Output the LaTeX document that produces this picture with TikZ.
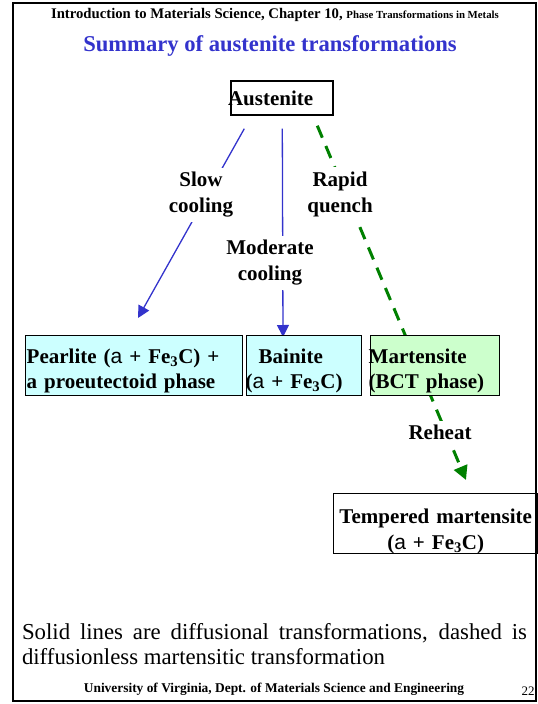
\documentclass[tikz,border=0pt]{standalone}
\usepackage{fontspec}
\setmainfont{Liberation Serif}
\newfontfamily\alfont{Liberation Sans}
\usetikzlibrary{arrows.meta,backgrounds}

\definecolor{pearlcyan}{HTML}{CCFFFF}
\definecolor{martgreen}{HTML}{CCFFCC}
\definecolor{titleblue}{HTML}{3333CC}
\definecolor{quenchgreen}{HTML}{008000}

\newcommand{\alphaph}{{\alfont\mdseries a}}
\newcommand{\fec}{Fe\textsubscript{3}C}

\tikzset{
  phase/.style={draw, line width=1.4pt, inner ysep=0pt, minimum height=60pt, align=left,
    font=\bfseries\fontsize{21}{25.5}\selectfont},
  phasetext/.style={phase, draw=none, minimum height=0pt, inner xsep=0pt, anchor=north west},
  route/.style={fill=white, inner sep=4pt, align=center, font=\bfseries\fontsize{21}{26}\selectfont},
  diffusional/.style={draw=titleblue, line width=1.3pt, -{Triangle[length=12pt,width=12pt]}},
  quench/.style={draw=quenchgreen, line width=3pt, dash pattern=on 13pt off 9pt,
    -{Triangle[length=14pt,width=14pt]}}
}

\begin{document}
\begin{tikzpicture}[x=1pt,y=-1pt]
    \useasboundingbox (0,0) rectangle (538,704);
    \draw[line width=2pt] (13,3) rectangle (536,701);

    % Heading
    \node[font=\bfseries\fontsize{14.7}{17}\selectfont] (head) at (275,15)
        {Introduction to Materials Science, Chapter 10, {\fontsize{10.8}{13}\selectfont Phase Transformations in Metals}};
    \node[font=\bfseries\fontsize{22.6}{26}\selectfont, text=titleblue] (title) at (270,46)
        {Summary of austenite transformations};

    % Phases
    \node[phase, minimum height=34pt, text width=108pt, inner xsep=-3pt] (aus) at (282,98) {Austenite};

    \node[phase, fill=pearlcyan, minimum width=217pt, anchor=north west] (pearl) at (25,335) {};
    \node[phase, fill=pearlcyan, minimum width=115pt, anchor=north west] (bain) at (246,335) {};
    \node[phase, fill=martgreen, minimum width=129pt, anchor=north west] (mart) at (370,335) {};
    \node[phase, minimum width=204pt, anchor=north west] (temp) at (333,493) {};

    \node[phasetext, text width=216pt] (pearltext) at (26,348)
        {Pearlite (\alphaph{} + \fec) +\\a proeutectoid phase};
    \node[phasetext, text width=117pt] (baintext) at (245,348)
        {\hspace*{13pt}Bainite\\(\alphaph{} + \fec)};
    \node[phasetext, text width=133pt] (marttext) at (368,348)
        {Martensite\\(BCT phase)};
    \node[phasetext, text width=204pt, align=center, anchor=north] (temptext) at (temp.north)
        {\rule{0pt}{30pt}Tempered martensite\\(\alphaph{} + \fec)};

    % Edges
    \begin{scope}[on background layer]
        \draw[diffusional] ([shift={(14,13)}]aus.south west) -- ([shift={(113,-17)}]pearl.north west);
        \draw[diffusional] ([shift={(52,13)}]aus.south west) -- ([shift={(37,2)}]bain.north west);
        \draw[quench] ([shift={(87,10)}]aus.south west) -- ([shift={(133,-13)}]temp.north west);
    \end{scope}

    % Edge labels
    \node[route] (slow) at (201,195) {Slow\\cooling};
    \node[route] (moder) at (270,263) {Moderate\\cooling};
    \node[route] (rapid) at (340,194) {Rapid\\quench};
    \node[route] (reheat) at (440,432) {Reheat};

    % Note and footer
    \node[text width=505pt, align=justify, inner sep=0pt, font=\fontsize{22.8}{25.5}\selectfont] (note) at (274.5,644)
        {Solid lines are diffusional transformations, dashed is diffusionless martensitic transformation};
    \node[font=\bfseries\fontsize{13.4}{16}\selectfont] (foot) at (274,689)
        {University of Virginia, Dept. of Materials Science and Engineering};
    \node[font=\fontsize{13}{15}\selectfont] (page) at (528,691) {22};
\end{tikzpicture}
\end{document}
